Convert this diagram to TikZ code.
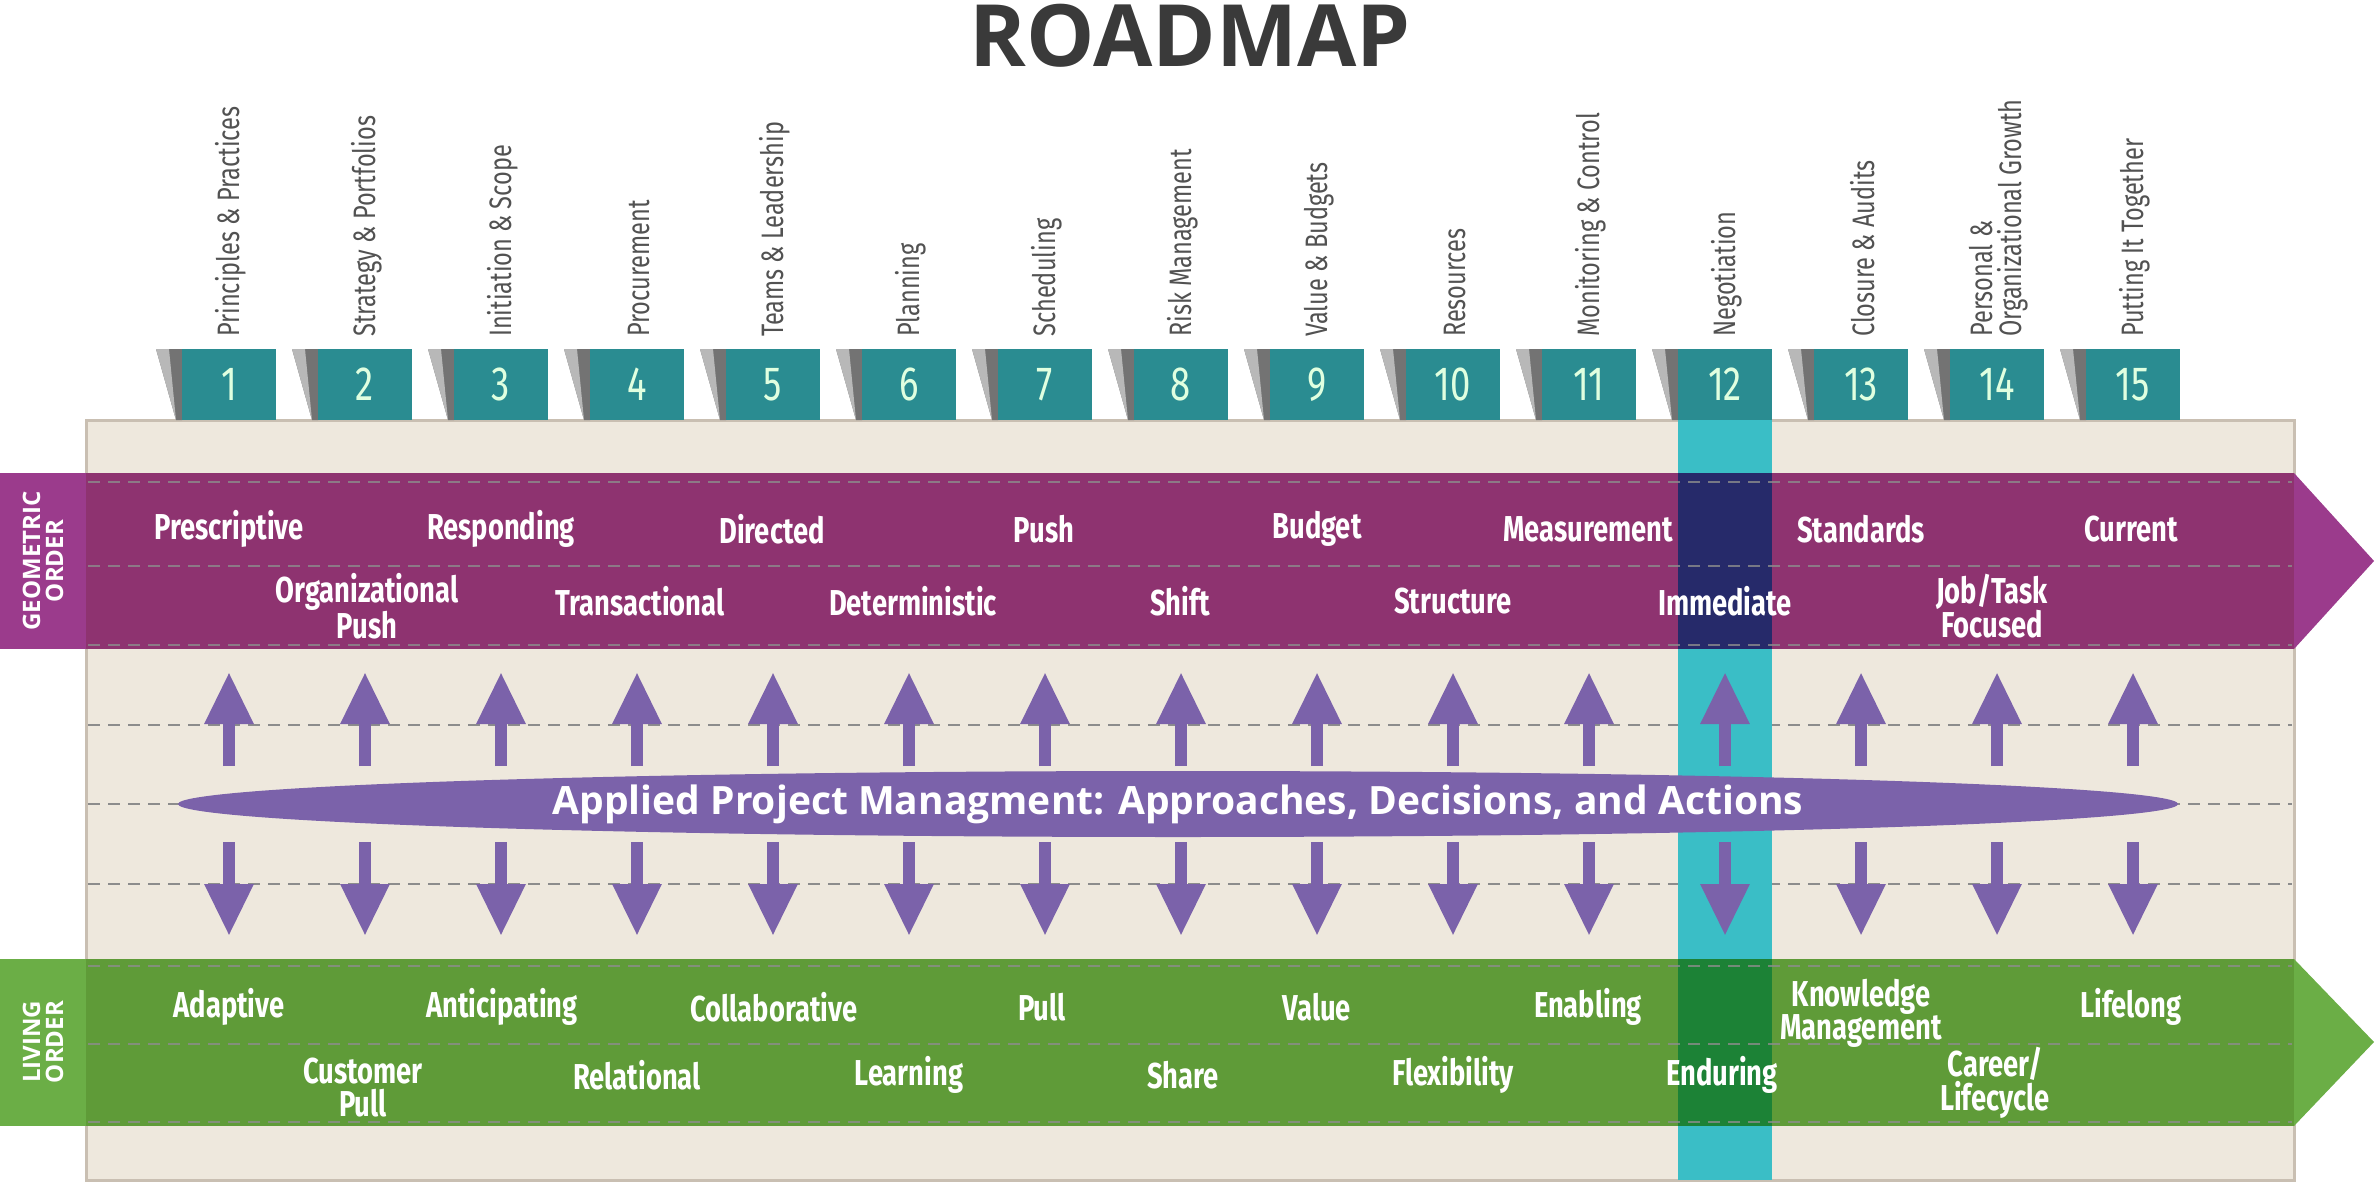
\documentclass[tikz,border=0pt]{standalone}
\usepackage{fontspec}
\setmainfont{Open Sans}
\newfontfamily\cond[FakeStretch=0.76]{Fira Sans}
\usetikzlibrary{arrows.meta,shapes.geometric}
\definecolor{beige}{HTML}{EEE8DD}
\definecolor{beigeb}{HTML}{C9BFB2}
\definecolor{pband}{HTML}{8E3370}
\definecolor{ptab}{HTML}{9B3B8C}
\definecolor{gband}{HTML}{5F9B38}
\definecolor{gtab}{HTML}{6BAE46}
\definecolor{tealc}{HTML}{3ABEC6}
\definecolor{navy}{HTML}{262A6A}
\definecolor{dgreen}{HTML}{1C8236}
\definecolor{boxteal}{HTML}{2A8C91}
\definecolor{arrp}{HTML}{7B62AA}
\definecolor{titleg}{HTML}{3A3A3A}
\tikzset{
 numbox/.style={fill=boxteal,minimum width=94pt,minimum height=71pt,inner sep=0,text=white!88!green,font=\cond\fontsize{48}{48}\selectfont},
 toplbl/.style={rotate=90,anchor=west,inner sep=0,text=black!68,align=left,font=\cond\fontsize{31}{29}\selectfont},
 blbl/.style={text=white,align=center,inner sep=0,font=\cond\bfseries\fontsize{36}{33}\selectfont},
 tablbl/.style={rotate=90,text=white,align=center,inner sep=0,font=\bfseries\fontsize{24}{23}\selectfont},
 dline/.style={dashed,dash pattern=on 12pt off 8pt,line width=1.3pt},
 uparr/.style={arrp,line width=12pt,-{Triangle[width=46pt,length=52pt]}},
}
\begin{document}
\begin{tikzpicture}[x=1pt,y=-1pt]
\useasboundingbox (0,0) rectangle (2379,1185);
\node[font=\bfseries\fontsize{86}{86}\selectfont,text=titleg] (title) at (1190,36) {ROADMAP};
% panel
\draw[fill=beige,draw=beigeb,line width=3pt] (86,420) rectangle (2294,1180);
\foreach \y in {725,804,884}{\draw[dline,black!45] (88,\y) -- (2292,\y);}
% teal column
\fill[tealc] (1678,420) rectangle (1772,1180);
% purple band
\fill[pband] (86,473) rectangle (2294,649);
\fill[ptab] (2294,473) -- (2374,561) -- (2294,649) -- cycle;
\fill[ptab] (0,473) rectangle (86,649);
\fill[navy] (1678,473) rectangle (1772,649);
\node[tablbl] (geo) at (43,561) {GEOMETRIC\\ORDER};
% green band
\fill[gband] (86,959) rectangle (2294,1126);
\fill[gtab] (2294,959) -- (2374,1042) -- (2294,1126) -- cycle;
\fill[gtab] (0,959) rectangle (86,1126);
\fill[dgreen] (1678,959) rectangle (1772,1126);
\node[tablbl] (liv) at (43,1042) {LIVING\\ORDER};
\foreach \y in {482,566,645}{\draw[dline,black!45,opacity=0.8] (88,\y) -- (2292,\y);}
\foreach \y in {966,1044,1122}{\draw[dline,black!45,opacity=0.8] (88,\y) -- (2292,\y);}
% number boxes and labels
\foreach \i/\t in {1/Principles \& Practices,2/Strategy \& Portfolios,3/Initiation \& Scope,4/Procurement,5/Teams \& Leadership,6/Planning,7/Scheduling,8/Risk Management,9/Value \& Budgets,10/Resources,11/Monitoring \& Control,12/Negotiation,13/Closure \& Audits,14/{Personal \&\\Organizational Growth},15/Putting It Together}{
 \pgfmathsetmacro\cx{229+(\i-1)*136}
 \fill[black!55] (\cx-47-26,349) -- (\cx-47,349) -- (\cx-47,420) -- (\cx-53,420) -- cycle;
 \fill[black!28] (\cx-47-26,349) -- (\cx-60,349) -- (\cx-53,420) -- cycle;
 \node[numbox] (n\i) at (\cx,384.5) {\i};
 \node[toplbl] (t\i) at (\cx+2,337) {\t};
 \draw[uparr] (\cx,766) -- (\cx,672);
 \draw[uparr] (\cx,842) -- (\cx,936);
}
% ellipse
\node[ellipse,fill=arrp,minimum width=2000pt,minimum height=66pt,inner sep=0,text=white,font=\bfseries\fontsize{39}{39}\selectfont] (core) at (1178,804) {Applied Project Managment: Approaches, Decisions, and Actions};
% purple band labels
\foreach \x/\t in {229/Prescriptive,501/Responding,772/Directed,1044/Push,1317/Budget,1588/Measurement,1861/Standards,2131/Current}
 {\node[blbl] at (\x,529) {\t};}
\foreach \x/\y/\t in {367/606/{Organizational\\Push},640/601/Transactional,913/601/Deterministic,1180/601/Shift,1453/601/Structure,1725/601/Immediate,1992/606/{Job/Task\\Focused}}
 {\node[blbl] at (\x,\y) {\t};}
% green band labels
\foreach \x/\y/\t in {229/1007/Adaptive,502/1007/Anticipating,774/1007/Collaborative,1042/1007/Pull,1317/1007/Value,1588/1007/Enabling,1861/1013/{Knowledge\\Management},2131/1007/Lifelong}
 {\node[blbl] at (\x,\y) {\t};}
\foreach \x/\y/\t in {363/1088/{Customer\\Pull},637/1075/Relational,909/1075/Learning,1183/1075/Share,1453/1075/Flexibility,1722/1075/Enduring,1995/1083/{Career/\\Lifecycle}}
 {\node[blbl] at (\x,\y) {\t};}
\end{tikzpicture}
\end{document}
